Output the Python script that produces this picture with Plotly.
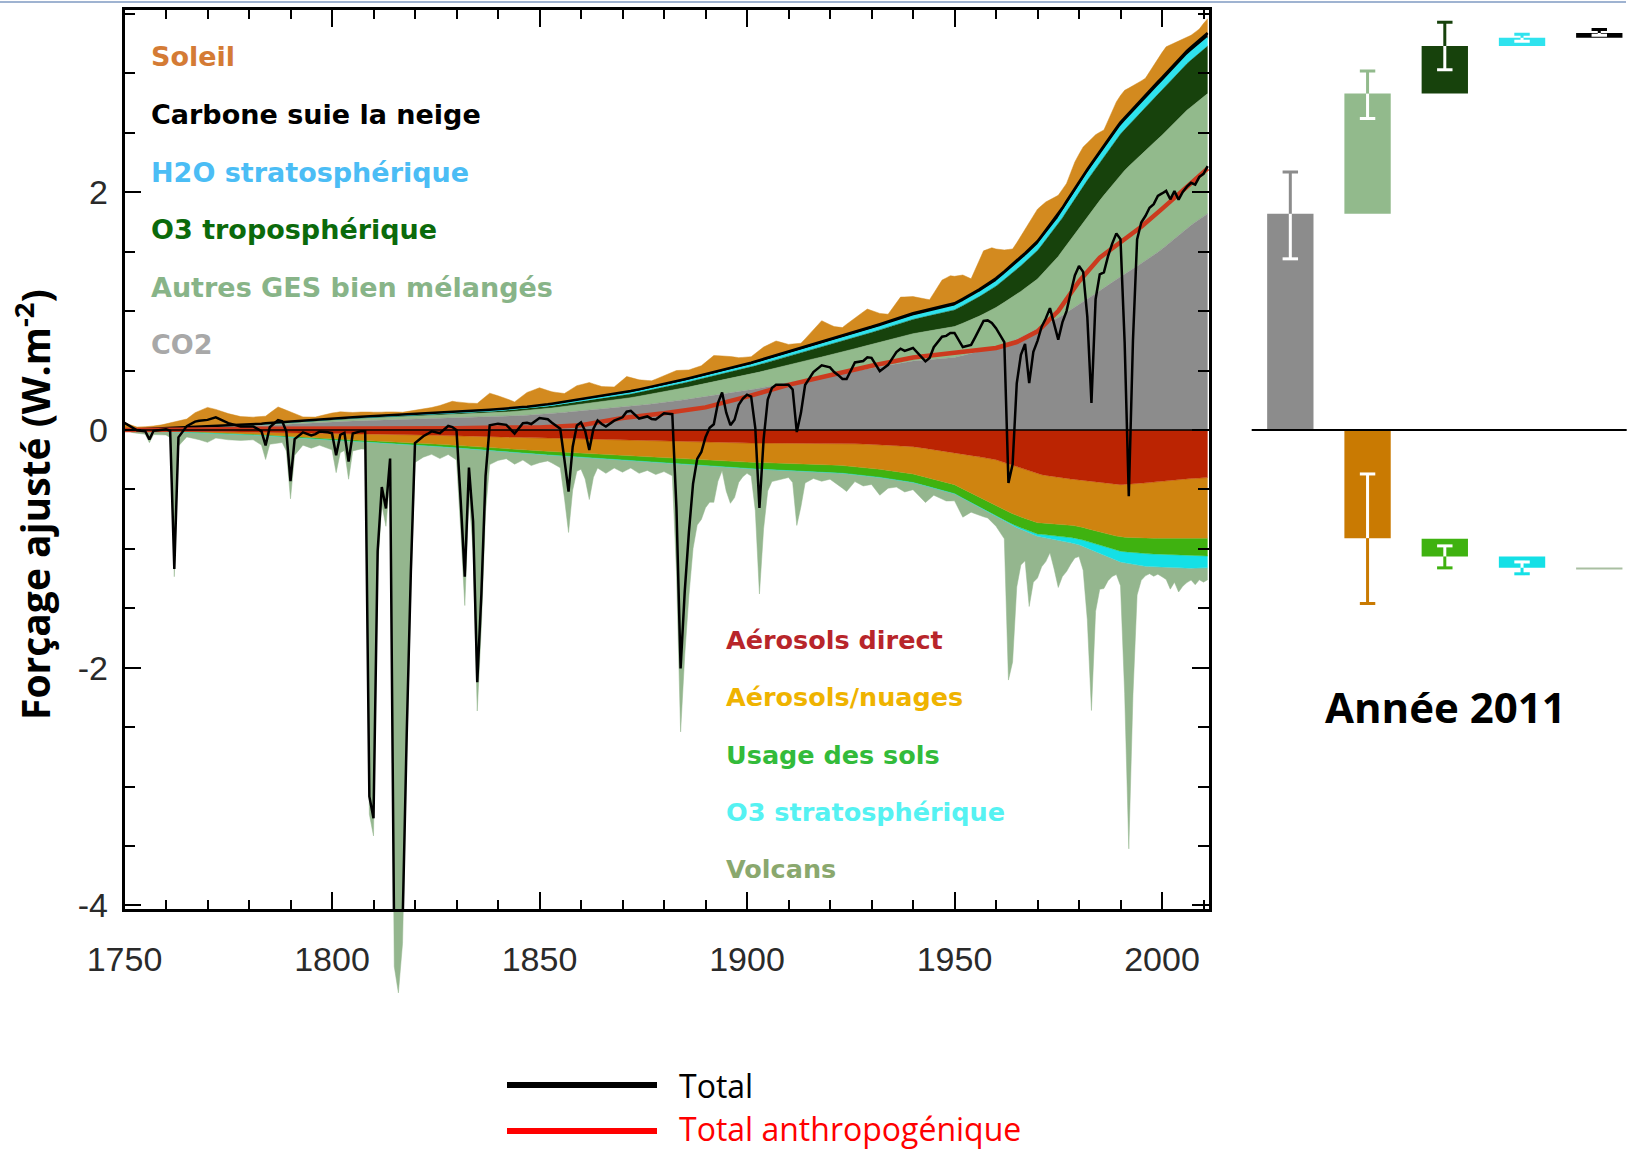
import numpy as np
import plotly.graph_objects as go

W, H = 1633, 1151

# ---------------- time series (W m-2) ----------------
years = [1750, 1760, 1770, 1780, 1790, 1800, 1810, 1820, 1830, 1840, 1850, 1860, 1870, 1880, 1890,
         1900, 1910, 1920, 1930, 1940, 1950, 1955, 1960, 1965, 1970, 1975, 1980, 1985, 1990, 1995,
         2000, 2005, 2010, 2011]

co2 = [0.00, 0.01, 0.02, 0.03, 0.05, 0.07, 0.08, 0.09, 0.10, 0.11, 0.13, 0.16, 0.19, 0.23, 0.28,
       0.33, 0.40, 0.46, 0.52, 0.58, 0.61, 0.65, 0.70, 0.76, 0.85, 0.94, 1.06, 1.17, 1.29, 1.40,
       1.52, 1.67, 1.80, 1.82]
other_ghg = [0.0, 0.002, 0.005, 0.008, 0.012, 0.016, 0.02, 0.025, 0.03, 0.036, 0.042, 0.055, 0.07, 0.09, 0.11,
             0.13, 0.15, 0.17, 0.20, 0.23, 0.26, 0.29, 0.33, 0.38, 0.42, 0.52, 0.64, 0.76, 0.86, 0.92,
             0.96, 0.99, 1.005, 1.01]
trop_o3 = [0.0, 0.001, 0.002, 0.003, 0.004, 0.005, 0.007, 0.009, 0.011, 0.014, 0.018, 0.024, 0.03, 0.038, 0.048,
           0.06, 0.07, 0.085, 0.10, 0.12, 0.14, 0.16, 0.18, 0.21, 0.24, 0.27, 0.30, 0.32, 0.34, 0.36,
           0.38, 0.39, 0.40, 0.40]
strat_h2o = [0.0, 0.0005, 0.001, 0.0015, 0.002, 0.003, 0.003, 0.004, 0.004, 0.005, 0.005, 0.007, 0.009, 0.011, 0.013,
             0.016, 0.019, 0.022, 0.025, 0.028, 0.031, 0.034, 0.037, 0.041, 0.045, 0.05, 0.055, 0.059, 0.062, 0.064,
             0.066, 0.068, 0.07, 0.07]
bc_snow = [0.0, 0.001, 0.002, 0.003, 0.004, 0.005, 0.006, 0.007, 0.008, 0.009, 0.01, 0.012, 0.014, 0.016, 0.018,
           0.02, 0.021, 0.022, 0.023, 0.024, 0.025, 0.027, 0.029, 0.031, 0.033, 0.034, 0.035, 0.036, 0.037, 0.038,
           0.039, 0.04, 0.04, 0.04]

aer_direct = [0.0, -0.005, -0.01, -0.015, -0.02, -0.03, -0.035, -0.04, -0.05, -0.055, -0.065, -0.075, -0.085, -0.095, -0.105,
              -0.11, -0.11, -0.11, -0.12, -0.14, -0.19, -0.22, -0.25, -0.31, -0.37, -0.40, -0.42, -0.44, -0.46, -0.45,
              -0.43, -0.41, -0.405, -0.40]
aer_cloud = [0.0, -0.005, -0.01, -0.02, -0.03, -0.045, -0.055, -0.065, -0.08, -0.095, -0.11, -0.12, -0.13, -0.14, -0.15,
             -0.16, -0.17, -0.18, -0.20, -0.23, -0.27, -0.33, -0.39, -0.41, -0.41, -0.39, -0.39, -0.42, -0.44, -0.46,
             -0.48, -0.50, -0.505, -0.51]
land_use = [0.0, -0.002, -0.004, -0.006, -0.009, -0.012, -0.015, -0.018, -0.022, -0.026, -0.03, -0.035, -0.04, -0.045, -0.05,
            -0.055, -0.06, -0.064, -0.068, -0.072, -0.076, -0.08, -0.085, -0.09, -0.095, -0.10, -0.105, -0.11, -0.12, -0.13,
            -0.135, -0.145, -0.15, -0.15]
strat_o3 = [0.0, 0.0, 0.0, 0.0, 0.0, 0.0, 0.0, 0.0, 0.0, 0.0, 0.0, 0.0, 0.0, 0.0, 0.0,
            0.0, 0.0, 0.0, 0.0, 0.0, 0.0, 0.0, -0.005, -0.01, -0.02, -0.035, -0.05, -0.07, -0.09, -0.105,
            -0.11, -0.11, -0.10, -0.10]

anthro_total = [0.0, 0.0, 0.005, 0.01, 0.01, 0.01, 0.01, 0.01, 0.015, 0.02, 0.02, 0.04, 0.10, 0.14, 0.19,
                0.28, 0.38, 0.46, 0.54, 0.61, 0.65, 0.67, 0.69, 0.74, 0.83, 1.00, 1.25, 1.45, 1.58, 1.71,
                1.86, 2.02, 2.17, 2.20]

solar_years = [1750, 1753, 1756, 1759, 1762, 1765, 1767, 1770, 1772, 1775,
               1778, 1781, 1784, 1787, 1790, 1793, 1796, 1799, 1802, 1805,
               1808, 1811, 1814, 1817, 1820, 1823, 1826, 1829, 1832, 1835,
               1838, 1841, 1844, 1847, 1850, 1853, 1856, 1859, 1862, 1865,
               1868, 1871, 1874, 1877, 1880, 1883, 1886, 1889, 1892, 1895,
               1898, 1901, 1904, 1907, 1910, 1913, 1916, 1918, 1921, 1923,
               1926, 1929, 1932, 1934, 1937, 1940, 1944, 1947, 1949, 1952,
               1954, 1957, 1959, 1962, 1964, 1968, 1970, 1972, 1975, 1977,
               1979, 1981, 1984, 1986, 1989, 1991, 1994, 1996, 1999, 2001,
               2004, 2007, 2009, 2011]
solar = [0.06, 0.02, 0.02, 0.03, 0.05, 0.07, 0.12, 0.16, 0.14, 0.10,
         0.07, 0.06, 0.06, 0.13, 0.08, 0.03, 0.02, 0.04, 0.05, 0.04,
         0.04, 0.03, 0.03, 0.02, 0.03, 0.04, 0.06, 0.09, 0.07, 0.06,
         0.14, 0.10, 0.05, 0.12, 0.15, 0.10, 0.07, 0.12, 0.13, 0.08,
         0.06, 0.13, 0.08, 0.05, 0.07, 0.09, 0.07, 0.08, 0.14, 0.11,
         0.07, 0.05, 0.10, 0.12, 0.06, 0.04, 0.12, 0.18, 0.10, 0.07,
         0.12, 0.16, 0.09, 0.06, 0.17, 0.14, 0.08, 0.22, 0.24, 0.20,
         0.13, 0.30, 0.28, 0.18, 0.13, 0.22, 0.27, 0.24, 0.16, 0.15,
         0.22, 0.24, 0.19, 0.13, 0.22, 0.23, 0.17, 0.14, 0.20, 0.22,
         0.15, 0.10, 0.09, 0.12]

volc_years = ([1750, 1752, 1755, 1756, 1757, 1760, 1761, 1762, 1763]
              + [1765, 1768, 1770, 1772, 1775, 1778, 1781, 1783, 1784, 1785, 1788, 1789, 1790, 1791]
              + [1793, 1795, 1797, 1799, 1800, 1801, 1802, 1803, 1804, 1805, 1807, 1808]
              + list(range(1809, 1821))
              + [1822, 1824, 1826, 1828, 1830, 1831, 1832, 1833, 1834, 1835, 1836, 1837, 1838]
              + [1840, 1842, 1844, 1846, 1848, 1850, 1852, 1854, 1855, 1856, 1857, 1858, 1859, 1860,
                 1861, 1862, 1863, 1864]
              + [1866, 1868, 1870, 1872, 1874, 1876, 1878, 1880, 1882, 1883, 1884, 1885, 1886, 1887,
                 1888, 1889, 1890, 1891, 1892, 1893, 1894, 1895, 1896, 1897, 1898, 1899]
              + [1900, 1901, 1902, 1903, 1904, 1905, 1906, 1908, 1910, 1911, 1912, 1913, 1914, 1916,
                 1918, 1920, 1922, 1924, 1926, 1928, 1930, 1932, 1934, 1936, 1938, 1940, 1943, 1945,
                 1948, 1950, 1952, 1954, 1956, 1958, 1960]
              + list(range(1962, 2012)))
volcanic = ([0.0, -0.02, -0.03, -0.10, -0.03, -0.03, -0.05, -1.22, -0.12]
            + [-0.04, -0.06, -0.08, -0.04, -0.05, -0.05, -0.04, -0.08, -0.20, -0.07, -0.05, -0.12, -0.52, -0.15]
            + [-0.06, -0.08, -0.05, -0.07, -0.08, -0.27, -0.10, -0.08, -0.32, -0.08, -0.06, -0.06]
            + [-3.13, -3.31, -1.06, -0.52, -0.70, -0.28, -4.40, -4.62, -4.20, -2.60, -1.23, -0.15]
            + [-0.10, -0.07, -0.10, -0.06, -0.10, -0.68, -1.32, -0.40, -0.85, -2.20, -1.48, -0.52, -0.12]
            + [-0.08, -0.06, -0.10, -0.06, -0.10, -0.07, -0.05, -0.08, -0.10, -0.35, -0.64, -0.28, -0.12, -0.10,
               -0.18, -0.35, -0.16, -0.08]
            + [-0.12, -0.07, -0.10, -0.06, -0.10, -0.07, -0.10, -0.07, -0.10, -0.90, -2.25, -1.60, -1.10, -0.70,
               -0.50, -0.45, -0.35, -0.30, -0.30, -0.12, -0.03, -0.20, -0.30, -0.25, -0.12, -0.07]
            + [-0.04, -0.06, -0.35, -1.05, -0.50, -0.18, -0.10, -0.08, -0.06, -0.10, -0.46, -0.30, -0.10, -0.06,
               -0.08, -0.06, -0.10, -0.15, -0.06, -0.09, -0.07, -0.15, -0.08, -0.06, -0.09, -0.06, -0.14, -0.06,
               -0.08, -0.06, -0.16, -0.08, -0.07, -0.05, -0.08]
            + [-0.15, -1.32, -1.15, -0.50, -0.30, -0.25, -0.62, -0.40, -0.35, -0.25,
               -0.20, -0.12, -0.25, -0.40, -0.30, -0.25, -0.18, -0.12, -0.10, -0.20,
               -0.60, -1.35, -0.50, -0.30, -0.28, -0.20, -0.15, -0.12, -0.20, -1.10,
               -2.40, -1.10, -0.25, -0.12, -0.08, -0.06, -0.08, -0.06, -0.08, -0.10,
               -0.18, -0.12, -0.20, -0.15, -0.12, -0.10, -0.14, -0.10, -0.12, -0.10])

# ---------------- 2011 bars ----------------
bar_slot = [1, 2, 3, 4, 5, 2, 3, 4, 5]
bar_base = [0.0, 1.82, 2.83, 3.23, 3.30, 0.0, -0.915, -1.065, -1.16]
bar_top = [1.82, 2.83, 3.23, 3.30, 3.34, -0.91, -1.065, -1.16, -1.172]
err_low = [1.44, 2.62, 3.03, 3.27, 3.32, -1.46, -1.16, -1.21, None]
err_high = [2.17, 3.02, 3.43, 3.33, 3.37, -0.37, -0.975, -1.11, None]

# ---------------- colours ----------------
C_CO2, C_GHG, C_O3T, C_H2O, C_BC, C_SOL = "#8c8c8c", "#92ba8c", "#17420c", "#2fe3ee", "#000000", "#d38a1f"
C_AERD, C_AERC, C_LAND, C_O3S, C_VOLC = "#bb2402", "#cf8410", "#3fb210", "#14e0e6", "#94b68e"
bar_color = [C_CO2, C_GHG, C_O3T, C_H2O, C_BC, "#c97a02", C_LAND, C_O3S, "#a9bfa2"]

# ---------------- geometry (pixels) ----------------
PX_L, PX_R = 124.5, 1209.0          # plot frame left/right
PX_T, PX_B = 10.4, 909.0            # plot frame top/bottom
PX_EXT = 1000.0                     # lower limit for the volcanic fill layer
Y_LO, Y_HI = -4.03, 3.53
X_LO = 1750
X_HI = 1750 + (PX_R - PX_L) / 4.15
ppu = (PX_B - PX_T) / (Y_HI - Y_LO)
Y_EXT_LO = Y_HI - (PX_EXT - PX_T) / ppu

def px(x):
    return x / W

def py(y):
    return 1 - y / H

# ---------------- stacks ----------------
t = np.union1d(np.union1d(years, solar_years), volc_years).astype(float)

def on_t(xs, ys):
    return np.interp(t, xs, ys)

fig = go.Figure()

def add_base():
    fig.add_trace(go.Scatter(x=t, y=np.zeros_like(t), mode="lines", line=dict(width=0),
                             xaxis="x", yaxis="y", hoverinfo="skip", showlegend=False))

def add_stack(parts):
    cum = np.zeros_like(t)
    for vals, color, lw, lc in parts:
        cum = cum + vals
        fig.add_trace(go.Scatter(x=t, y=cum.copy(), mode="lines", fill="tonexty", fillcolor=color,
                                 line=dict(width=lw, color=lc), xaxis="x", yaxis="y",
                                 hoverinfo="skip", showlegend=False))

add_base()
add_stack([
    (on_t(years, co2), C_CO2, 0.5, C_CO2),
    (on_t(years, other_ghg), C_GHG, 0.5, C_GHG),
    (on_t(years, trop_o3), C_O3T, 0.5, C_O3T),
    (on_t(years, strat_h2o), C_H2O, 1.5, C_H2O),
    (on_t(years, bc_snow), C_BC, 2.5, C_BC),
    (on_t(solar_years, solar), C_SOL, 0.5, C_SOL),
])
add_base()
add_stack([
    (on_t(years, aer_direct), C_AERD, 0.5, C_AERD),
    (on_t(years, aer_cloud), C_AERC, 0.5, C_AERC),
    (on_t(years, land_use), C_LAND, 0.5, C_LAND),
    (on_t(years, strat_o3), C_O3S, 0.5, C_O3S),
    (on_t(volc_years, volcanic), C_VOLC, 0.5, C_VOLC),
])

# total and anthropogenic lines
total = on_t(years, anthro_total) + on_t(solar_years, solar) + on_t(volc_years, volcanic)
fig.add_trace(go.Scatter(x=years, y=anthro_total, mode="lines", line=dict(color="#cc3a1e", width=4.5),
                         xaxis="x", yaxis="y2", hoverinfo="skip", showlegend=False))
fig.add_trace(go.Scatter(x=t, y=total, mode="lines", line=dict(color="black", width=2.5),
                         xaxis="x", yaxis="y2", hoverinfo="skip", showlegend=False))

# ---------------- 2011 bars ----------------
fig.add_trace(go.Bar(x=bar_slot, y=[tp - b for tp, b in zip(bar_top, bar_base)], base=bar_base,
                     width=0.6, marker=dict(color=bar_color, line=dict(width=0)),
                     xaxis="x2", yaxis="y3", hoverinfo="skip", showlegend=False))

segs = {}
def seg(color, xs, ys):
    d = segs.setdefault(color, ([], []))
    d[0].extend(list(xs) + [None])
    d[1].extend(list(ys) + [None])

CAP = 0.1
for s, b, tp, lo, hi, col in zip(bar_slot, bar_base, bar_top, err_low, err_high, bar_color):
    if lo is None:
        continue
    blo, bhi = min(b, tp), max(b, tp)
    elo, ehi = min(lo, hi), max(lo, hi)
    ilo, ihi = max(elo, blo), min(ehi, bhi)
    if ihi > ilo:
        seg("white", [s, s], [ilo, ihi])
    if elo < blo:
        seg(col, [s, s], [elo, blo])
    if ehi > bhi:
        seg(col, [s, s], [bhi, ehi])
    for e in (elo, ehi):
        seg("white" if blo <= e <= bhi else col, [s - CAP, s + CAP], [e, e])

for col, (xs, ys) in segs.items():
    fig.add_trace(go.Scatter(x=xs, y=ys, mode="lines", line=dict(color=col, width=3),
                             xaxis="x2", yaxis="y3", hoverinfo="skip", showlegend=False))

# ---------------- axes ----------------
tickfont = dict(family="Liberation Sans, Arial, sans-serif", size=34, color="#2a2a2a")
fig.update_layout(
    width=W, height=H, margin=dict(l=0, r=0, t=0, b=0, autoexpand=False),
    paper_bgcolor="white", plot_bgcolor="rgba(0,0,0,0)",
    showlegend=False, hovermode=False,
    xaxis=dict(domain=[px(PX_L), px(PX_R)], range=[X_LO, X_HI], anchor="y2", automargin=False,
               showline=True, linecolor="black", linewidth=2.5, mirror="ticks",
               ticks="inside", ticklen=17, tickwidth=2, tickcolor="black",
               tickvals=[1750, 1800, 1850, 1900, 1950, 2000], tickfont=tickfont,
               ticklabelstandoff=18,
               minor=dict(dtick=10, tick0=1750, ticks="inside", ticklen=9, tickwidth=2, tickcolor="black"),
               showgrid=False, zeroline=False),
    yaxis=dict(domain=[py(PX_EXT), py(PX_T)], range=[Y_EXT_LO, Y_HI], anchor="x", automargin=False,
               visible=False, showgrid=False, zeroline=False),
    yaxis2=dict(domain=[py(PX_B), py(PX_T)], range=[Y_LO, Y_HI], anchor="x", automargin=False,
                showline=True, linecolor="black", linewidth=2.5, mirror="ticks",
                ticks="inside", ticklen=17, tickwidth=2, tickcolor="black",
                tickvals=[-4, -2, 0, 2], ticktext=["-4", "-2", "0", "2"], tickfont=tickfont,
                ticklabelstandoff=7,
                minor=dict(dtick=0.5, tick0=0, ticks="inside", ticklen=11, tickwidth=2, tickcolor="black"),
                showgrid=False, zeroline=False),
    xaxis2=dict(domain=[px(1251.7), px(1626.7)], range=[0.5, 5.355], anchor="y3", automargin=False,
                visible=False, showgrid=False, zeroline=False),
    yaxis3=dict(domain=[py(PX_B), py(PX_T)], range=[Y_LO, Y_HI], anchor="x2", automargin=False,
                visible=False, showgrid=False, zeroline=False),
)

shapes = [
    dict(type="line", xref="x domain", x0=0, x1=1, yref="y2", y0=0, y1=0,
         line=dict(color="black", width=1.5), layer="above"),
    dict(type="line", xref="x2 domain", x0=0, x1=1, yref="y3", y0=0, y1=0,
         line=dict(color="black", width=2), layer="above"),
    dict(type="line", xref="paper", yref="paper", x0=px(507), x1=px(657), y0=py(1085), y1=py(1085),
         line=dict(color="black", width=6)),
    dict(type="line", xref="paper", yref="paper", x0=px(507), x1=px(657), y0=py(1131), y1=py(1131),
         line=dict(color="#ff0000", width=6)),
    # thin frame edge along the top of the canvas
    dict(type="line", xref="paper", yref="paper", x0=0, x1=px(1626), y0=py(2), y1=py(2),
         line=dict(color="#9fb3d1", width=2)),
]
fig.update_layout(shapes=shapes)

# ---------------- text ----------------
LABEL_FONT = "DejaVu Sans, Verdana, sans-serif"
ann = []
upper = [("Soleil", "#d47b35"), ("Carbone suie la neige", "#000000"), ("H2O stratosphérique", "#4bbdf5"),
         ("O3 troposphérique", "#0b6a0b"), ("Autres GES bien mélangés", "#88b488"), ("CO2", "#a8a8a8")]
for i, (txt, col) in enumerate(upper):
    ann.append(dict(text=f"<b>{txt}</b>", x=px(148.5), y=py(57 + 57.5 * i), xref="paper", yref="paper",
                    xanchor="left", yanchor="middle", showarrow=False,
                    font=dict(family=LABEL_FONT, size=27, color=col)))
lower = [("Aérosols direct", "#b8252a"), ("Aérosols/nuages", "#efb300"), ("Usage des sols", "#33bb3a"),
         ("O3 stratosphérique", "#55f2f2"), ("Volcans", "#8aa86e")]
for i, (txt, col) in enumerate(lower):
    ann.append(dict(text=f"<b>{txt}</b>", x=px(724), y=py(640 + 57.3 * i), xref="paper", yref="paper",
                    xanchor="left", yanchor="middle", showarrow=False,
                    font=dict(family=LABEL_FONT, size=25.5, color=col)))

ann.append(dict(text="<b>Forçage ajusté (W.m<sup>-2</sup>)</b>", x=px(33), y=py(505), xref="paper", yref="paper",
                textangle=-90, xanchor="center", yanchor="middle", showarrow=False,
                font=dict(family="Open Sans, sans-serif", size=39, color="black")))
ann.append(dict(text="<b>Année 2011</b>", x=px(1445.6), y=py(706), xref="paper", yref="paper",
                xanchor="center", yanchor="middle", showarrow=False,
                font=dict(family="Open Sans, sans-serif", size=42, color="black")))
ann.append(dict(text="Total", x=px(677), y=py(1085), xref="paper", yref="paper",
                xanchor="left", yanchor="middle", showarrow=False,
                font=dict(family="Open Sans, sans-serif", size=32, color="black")))
ann.append(dict(text="Total anthropogénique", x=px(677), y=py(1128), xref="paper", yref="paper",
                xanchor="left", yanchor="middle", showarrow=False,
                font=dict(family="Open Sans, sans-serif", size=32, color="#ff0000")))
fig.update_layout(annotations=ann)

fig.write_html("out.html")
